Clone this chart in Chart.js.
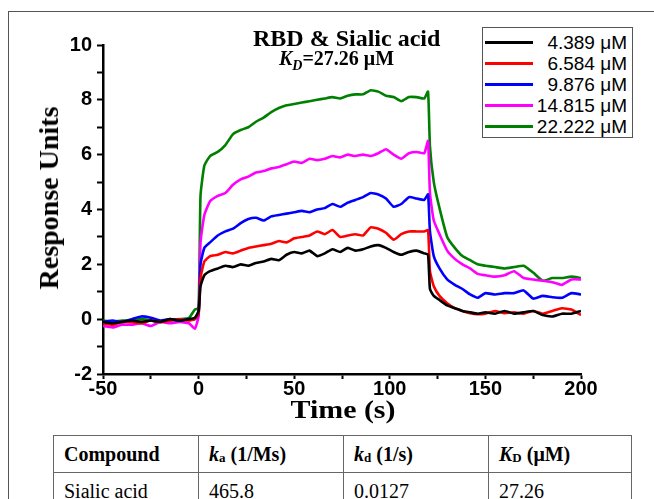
<!DOCTYPE html>
<html>
<head>
<meta charset="utf-8">
<script src="https://cdn.jsdelivr.net/npm/chart.js@4.4.0/dist/chart.umd.min.js"></script>
<style>
  body{margin:0;background:#fff;width:654px;height:499px;overflow:hidden;position:relative;font-family:"Liberation Serif",serif;}
  #frame{position:absolute;left:8px;top:11px;width:700px;height:600px;border:1.5px solid #555;box-sizing:border-box;}
  #wrap{position:absolute;left:0;top:0;width:654px;height:430px;}
  .ttl{position:absolute;font-family:"Liberation Serif",serif;font-weight:bold;color:#000;white-space:nowrap;}
  #legend{position:absolute;left:482px;top:27px;width:151px;height:111px;border:1.5px solid #555;box-sizing:border-box;background:#fff;}
  .lrow{position:absolute;left:0;width:146px;height:21px;}
  .lline{position:absolute;left:2px;top:9px;width:48px;height:3px;}
  .ltxt{position:absolute;right:2px;top:0;font:19px "Liberation Sans",Arial,sans-serif;line-height:21px;color:#000;}
  table{position:absolute;left:53px;top:435px;border-collapse:collapse;font-family:"Liberation Serif",serif;font-size:20px;}
  td,th{border:1.3px solid #666;height:36px;padding:0 0 0 10px;text-align:left;vertical-align:middle;}
  th sub{font-size:13px;vertical-align:-1px;}
</style>
</head>
<body>
<div id="frame"></div>
<div id="wrap"><canvas id="myChart" width="654" height="430"></canvas></div>
<div class="ttl" style="left:253px;top:25px;font-size:24px;">RBD &amp; Sialic acid</div>
<div class="ttl" style="left:279px;top:47px;font-size:20px;"><i>K<sub style="font-size:14px;">D</sub></i>=27.26 μM</div>
<div class="ttl" style="left:343px;top:410px;font-size:26px;transform:translate(-50%,-50%) scaleX(1.15);">Time (s)</div>
<div class="ttl" style="left:49px;top:198px;font-size:28px;transform:translate(-50%,-50%) rotate(-90deg);">Response Units</div>
<div id="legend"></div>
<table>
  <tr>
    <th style="width:134px;">Compound</th>
    <th style="width:134px;"><i>k</i><sub>a</sub> (1/Ms)</th>
    <th style="width:134px;"><i>k</i><sub>d</sub> (1/s)</th>
    <th style="width:132px;"><i>K</i><sub>D</sub> (μM)</th>
  </tr>
  <tr>
    <td>Sialic acid</td>
    <td>465.8</td>
    <td>0.0127</td>
    <td>27.26</td>
  </tr>
</table>
<script>
// time axis (s) shared by every trace
const time = [-50,-45,-40,-35,-30,-25,-20,-15,-10,-5,-2,0,
  1,3,6,10,14,18,22,26,30,34,38,42,46,50,54,58,62,66,70,74,78,82,86,90,94,98,102,106,110,114,118,120,
  121,123,126,130,134,138,142,146,150,155,160,165,170,175,180,185,190,195,200];

const concLabels = ['4.389 μM','6.584 μM','9.876 μM','14.815 μM','22.222 μM'];
const concColors = ['#000000','#ff0000','#0000ff','#ff00ff','#008000'];

const resp4389 = [-0.1,-0.15,-0.1,-0.05,-0.1,-0.05,-0.1,0,-0.05,0,0.05,0.3,
  1.2,1.6,1.75,1.85,1.95,1.9,2.0,1.95,2.05,2.1,2.2,2.15,2.35,2.45,2.4,2.5,2.3,2.4,2.55,2.45,2.6,2.5,2.55,2.65,2.7,2.6,2.45,2.35,2.45,2.5,2.4,2.35,
  1.1,0.85,0.7,0.5,0.4,0.3,0.25,0.2,0.25,0.2,0.3,0.2,0.25,0.3,0.15,0.1,0.2,0.2,0.3];
const resp6584 = [-0.15,-0.2,-0.1,-0.1,-0.15,-0.05,-0.1,-0.05,0,-0.05,0,0.2,
  1.5,2.1,2.3,2.35,2.45,2.4,2.5,2.6,2.65,2.7,2.75,2.85,2.8,2.95,3.0,3.05,3.2,3.1,3.25,3.0,3.05,3.1,3.05,3.35,3.3,3.15,2.9,3.1,3.2,3.2,3.2,3.25,
  1.75,1.2,0.85,0.58,0.4,0.3,0.22,0.18,0.2,0.3,0.22,0.25,0.2,0.3,0.2,0.3,0.4,0.35,0.15];
const resp9876 = [-0.1,-0.05,-0.1,0,0.1,0.05,-0.05,0,-0.05,0,0,0.2,
  2.0,2.6,2.8,3.05,3.2,3.3,3.5,3.65,3.7,3.6,3.75,3.8,3.85,3.9,3.95,3.9,4.0,4.05,4.2,4.1,4.25,4.35,4.45,4.6,4.55,4.4,4.1,4.2,4.45,4.4,4.35,4.55,
  3.2,2.3,1.85,1.45,1.25,1.1,0.9,0.78,0.95,0.9,0.95,0.95,1.05,0.75,0.85,0.8,0.78,0.95,0.9];
const resp14815 = [-0.25,-0.3,-0.2,-0.2,-0.15,-0.25,-0.1,-0.15,-0.1,-0.15,-0.35,0.1,
  2.8,3.8,4.3,4.5,4.6,4.9,5.1,5.2,5.35,5.4,5.5,5.55,5.65,5.75,5.7,5.85,5.8,5.85,5.95,5.9,6.0,5.95,6.0,5.95,6.05,6.2,6.0,5.85,6.05,6.1,6.05,6.5,
  4.6,3.6,3.1,2.5,2.2,2.0,1.85,1.65,1.6,1.55,1.6,1.75,1.5,1.45,1.4,1.35,1.25,1.45,1.45];
const resp22222 = [-0.05,-0.1,-0.05,-0.05,0,-0.05,-0.1,-0.05,0,0.05,0.35,0.4,
  4.5,5.6,5.95,6.1,6.35,6.75,6.9,7.0,7.2,7.35,7.55,7.7,7.8,7.85,7.9,7.95,8.0,8.05,8.1,8.05,8.15,8.2,8.2,8.35,8.3,8.15,8.1,7.95,8.1,8.1,8.05,8.3,
  6.3,5.0,4.05,3.0,2.6,2.3,2.15,2.0,1.95,1.9,1.85,1.9,1.95,1.7,1.4,1.5,1.5,1.55,1.5];

const allResp = [resp4389, resp6584, resp9876, resp14815, resp22222];

// legend box built from the same labels/colours
const legendEl = document.getElementById('legend');
concLabels.forEach((lab, i) => {
  const row = document.createElement('div');
  row.className = 'lrow';
  row.style.top = (4 + i * 21) + 'px';
  row.innerHTML = '<div class="lline" style="background:' + concColors[i] + '"></div><div class="ltxt">' + lab + '</div>';
  legendEl.appendChild(row);
});

const datasets = allResp.map((resp, i) => ({
  label: concLabels[i],
  data: time.map((t, j) => ({x: t, y: resp[j]})),
  borderColor: concColors[i],
  borderWidth: 2.6,
  pointRadius: 0,
  tension: 0.15,
  fill: false
}));

const tickFont = {family: '"Liberation Sans", Arial, sans-serif', size: 20, weight: 'bold'};

const ctx = document.getElementById('myChart');
new Chart(ctx, {
  type: 'line',
  data: {datasets: datasets},
  options: {
    responsive: false,
    animation: false,
    layout: {padding: {left: 0, right: 73, top: 45, bottom: 0}},
    plugins: {legend: {display: false}, tooltip: {enabled: false}},
    scales: {
      x: {
        type: 'linear', min: -50, max: 200,
        border: {display: true, color: '#000', width: 2.5},
        grid: {drawOnChartArea: false, drawTicks: true, tickLength: 5, color: '#000', tickWidth: 2},
        ticks: {
          stepSize: 25, autoSkip: false, maxRotation: 0, padding: -2, color: '#000', font: tickFont,
          callback: (v) => (v % 50 === 0 ? v : '')
        },
        afterFit: (scale) => { scale.height = 56; }
      },
      y: {
        min: -2, max: 10,
        border: {display: true, color: '#000', width: 2.5},
        grid: {drawOnChartArea: false, drawTicks: true, tickLength: 6, color: '#000', tickWidth: 2},
        ticks: {
          stepSize: 1, autoSkip: false, padding: 5, color: '#000', font: tickFont,
          callback: (v) => (v % 2 === 0 ? v : '')
        },
        afterFit: (scale) => { scale.width = 103; }
      }
    }
  }
});
</script>
</body>
</html>
